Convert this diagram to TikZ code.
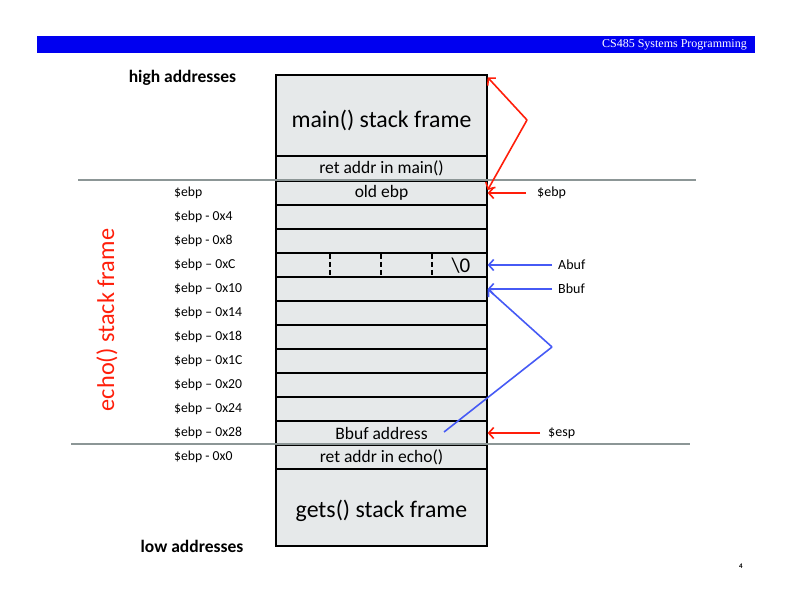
\documentclass[tikz,border=0pt]{standalone}
\usepackage{fontspec}
\usetikzlibrary{calc,arrows.meta}
\setmainfont{Carlito}
\newfontfamily\headfont{Liberation Serif}
\definecolor{cellgray}{RGB}{230,233,234}
\definecolor{rulegray}{RGB}{140,150,150}
\definecolor{headblue}{RGB}{0,0,240}
\definecolor{ptrred}{RGB}{255,30,10}
\definecolor{ptrblue}{RGB}{70,90,245}
\tikzset{
  >={Straight Barb[length=5pt, width=11pt]},
  cell/.style={draw, fill=cellgray, line width=1.3pt, minimum width=211pt, minimum height=24pt, inner sep=0pt, font=\fontsize{17.5}{17.5}\selectfont},
  frame/.style={cell, font=\fontsize{23.8}{23.8}\selectfont, text depth=5pt},
  addr/.style={anchor=west, inner sep=0pt, font=\fontsize{13.7}{13.7}\selectfont},
  ptr/.style={anchor=west, inner sep=0pt, font=\fontsize{14}{14}\selectfont},
  redarrow/.style={draw, ptrred, line width=1.6pt, ->},
  bluearrow/.style={draw, ptrblue, line width=1.6pt, ->}
}
\begin{document}
\begin{tikzpicture}[x=1pt,y=-1pt]
\useasboundingbox (0,0) rectangle (792,612);
% header
\node[fill=headblue, minimum width=718pt, minimum height=17pt, inner sep=0pt] (bar) at (396,44.5) {};
\node[anchor=east, text=white, inner sep=0pt, font=\headfont\fontsize{12}{12}\selectfont] (title) at (747,44.5) {CS485 Systems Programming};

% the stack
\node[frame, minimum height=81pt, text height=30pt] (main) at (381.5,115.5) {main() stack frame};
\node[cell, text height=15pt, text depth=4pt] (retmain) at (381.5,168.5) {ret addr in main()};
\node[cell] (oldebp) at (381.5,193) {old ebp};
\node[cell] (r4) at (381.5,217) {};
\node[cell] (r8) at (381.5,241) {};
\node[cell] (rC) at (381.5,265) {};
\node[cell] (r10) at (381.5,289) {};
\node[cell] (r14) at (381.5,313) {};
\node[cell] (r18) at (381.5,337) {};
\node[cell] (r1C) at (381.5,361) {};
\node[cell] (r20) at (381.5,385) {};
\node[cell] (r24) at (381.5,409) {};
\node[cell] (r28) at (381.5,433) {Bbuf address};
\node[cell] (retecho) at (381.5,457) {ret addr in echo()};
\node[frame, minimum height=77pt, text height=25pt] (gets) at (381.5,507.5) {gets() stack frame};

% bytes of Abuf
\path[draw, line width=1.5pt, dash pattern=on 5pt off 3pt] (330,254) -- (330,276);
\path[draw, line width=1.5pt, dash pattern=on 5pt off 3pt] (381,254) -- (381,276);
\path[draw, line width=1.5pt, dash pattern=on 5pt off 3pt] (432,254) -- (432,276);
\node[font=\fontsize{21}{21}\selectfont, inner sep=0pt] (nul) at (461,266) {\textbackslash 0};

% frame boundaries
\path[draw, rulegray, line width=1.5pt] (78,180) -- (696,180);
\path[draw, rulegray, line width=1.5pt] (71,444) -- (690,444);

% addresses
\node[addr] (a0) at (174,193) {\$ebp};
\node[addr] (a4) at (174,217) {\$ebp - 0x4};
\node[addr] (a8) at (174,241) {\$ebp - 0x8};
\node[addr] (aC) at (174,265) {\$ebp – 0xC};
\node[addr] (a10) at (174,289) {\$ebp – 0x10};
\node[addr] (a14) at (174,313) {\$ebp – 0x14};
\node[addr] (a18) at (174,337) {\$ebp – 0x18};
\node[addr] (a1C) at (174,361) {\$ebp – 0x1C};
\node[addr] (a20) at (174,385) {\$ebp – 0x20};
\node[addr] (a24) at (174,409) {\$ebp – 0x24};
\node[addr] (a28) at (174,433) {\$ebp – 0x28};
\node[addr] (aret) at (174,457) {\$ebp - 0x0};

\node[font=\bfseries\fontsize{17.5}{17.5}\selectfont, inner sep=0pt] (high) at (182.5,78) {high addresses};
\node[font=\bfseries\fontsize{17.5}{17.5}\selectfont, inner sep=0pt] (low) at (192,546) {low addresses};
\node[rotate=90, text=ptrred, font=\fontsize{24.3}{24.3}\selectfont, inner sep=0pt] (echo) at (107,320) {echo() stack frame};

% pointers
\node[ptr] (ebp) at (537,193) {\$ebp};
\node[ptr] (abuf) at (558,265) {Abuf};
\node[ptr] (bbuf) at (558,289) {Bbuf};
\node[ptr] (esp) at (548,433) {\$esp};
\coordinate (bend1) at (527,120);
\coordinate (bend2) at (552,347);
\coordinate (baddr) at (444,432);

\path[redarrow] (bend1) -- ($(main.north east)+(0,3)$);
\path[redarrow] (bend1) -- ($(oldebp.east)+(0,-3)$);
\path[redarrow] ($(ebp.west)+(-11,0)$) -- (oldebp.east);
\path[redarrow] ($(esp.west)+(-8,0)$) -- (r28.east);
\path[bluearrow] ($(abuf.west)+(-6,0)$) -- (rC.east);
\path[bluearrow] ($(bbuf.west)+(-6,0)$) -- (r10.east);
\path[bluearrow] (bend2) -- (r10.east);
\path[draw, ptrblue, line width=1.6pt] (bend2) -- (baddr);

\node[font=\bfseries\fontsize{7}{7}\selectfont, inner sep=0pt] (page) at (741,566) {4};
\end{tikzpicture}
\end{document}
